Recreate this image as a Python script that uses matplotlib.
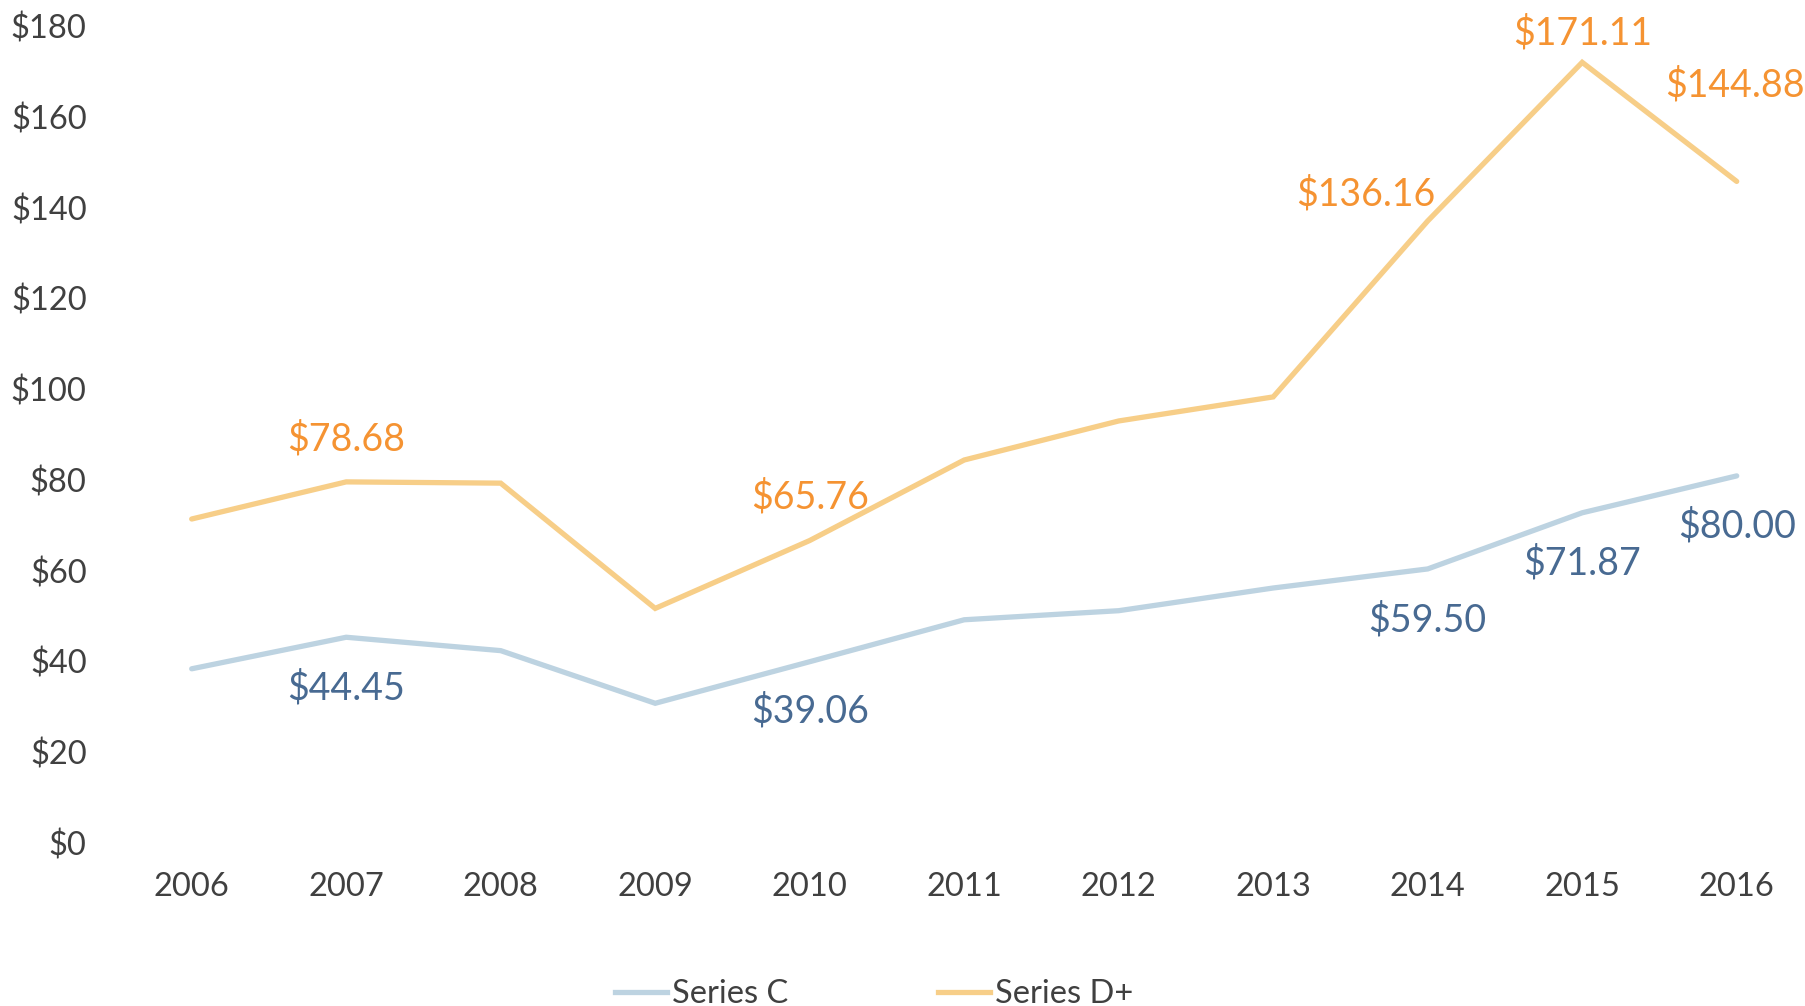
import matplotlib
matplotlib.use("Agg")
import matplotlib.pyplot as plt
import matplotlib.transforms as mtransforms
from matplotlib.lines import Line2D

plt.rcParams['font.family'] = ['Lato', 'DejaVu Sans']

years = ["2006", "2007", "2008", "2009", "2010", "2011", "2012", "2013", "2014", "2015", "2016"]
series_c = [37.5, 44.45, 41.5, 29.9, 39.06, 48.3, 50.3, 55.3, 59.50, 71.87, 80.00]
series_d = [70.5, 78.68, 78.4, 50.8, 65.76, 83.5, 92.1, 97.4, 136.16, 171.11, 144.88]
y_ticks = [0, 20, 40, 60, 80, 100, 120, 140, 160, 180]
y_tick_labels = ["$" + str(v) for v in y_ticks]

# labelled points: index -> pixel offset (dx, dy)
c_labels = {1: (0, -51), 4: (0, -50), 8: (0, -51), 9: (0, -50), 10: (0, -50)}
d_labels = {1: (0, 43), 4: (0, 43), 8: (-62, 27), 9: (0, 29), 10: (-2, 96)}

W, H = 1806, 1006
fig = plt.figure(figsize=(W / 100, H / 100), dpi=100)
x0_px, step = 191.7, 154.5
xmin, xmax = -0.5, 10.35
left = (x0_px + xmin * step) / W
width = (xmax - xmin) * step / W
bottom = (H - 839) / H
height = (839 - 22) / H
ax = fig.add_axes([left, bottom, width, height])

col_c_line = "#BDD3E1"
col_d_line = "#F7CE88"
col_c_text = "#486A92"
col_d_text = "#F59332"
tick_col = "#404040"

x = list(range(len(years)))
ax.plot(x, series_c, color=col_c_line, lw=3.8, solid_capstyle='round', solid_joinstyle='miter', label="Series C")
ax.plot(x, series_d, color=col_d_line, lw=3.8, solid_capstyle='round', solid_joinstyle='miter', label="Series D+")

for i, (dx, dy) in c_labels.items():
    ax.annotate(f"${series_c[i]:.2f}", (x[i], series_c[i]), xytext=(dx, dy), textcoords='offset pixels',
                ha='center', va='center', fontsize=27, color=col_c_text, annotation_clip=False)
for i, (dx, dy) in d_labels.items():
    ax.annotate(f"${series_d[i]:.2f}", (x[i], series_d[i]), xytext=(dx, dy), textcoords='offset pixels',
                ha='center', va='center', fontsize=27, color=col_d_text, annotation_clip=False)

ax.set_xlim(xmin, xmax)
ax.set_ylim(0, 180)
ax.set_yticks(y_ticks)
ax.set_yticklabels(y_tick_labels)
ax.set_xticks(x)
ax.set_xticklabels(years)
ax.tick_params(axis='both', length=0, labelsize=23.5, labelcolor=tick_col)
ax.tick_params(axis='y', pad=20)
ax.tick_params(axis='x', pad=24)
for s in ax.spines.values():
    s.set_visible(False)

shift = mtransforms.ScaledTranslation(0, -4 / 100, fig.dpi_scale_trans)
for lbl in ax.get_yticklabels():
    lbl.set_transform(lbl.get_transform() + shift)

handles = [Line2D([], [], color=col_c_line, lw=3.8), Line2D([], [], color=col_d_line, lw=3.8)]
fig.legend(handles, ["Series C", "Series D+"], loc='center', bbox_to_anchor=(874 / W, 0.012),
           ncol=2, frameon=False, fontsize=23.5, handlelength=1.6, handletextpad=0.15,
           columnspacing=4.6, borderpad=0, labelcolor=tick_col)

fig.savefig("out.png", dpi=100)
